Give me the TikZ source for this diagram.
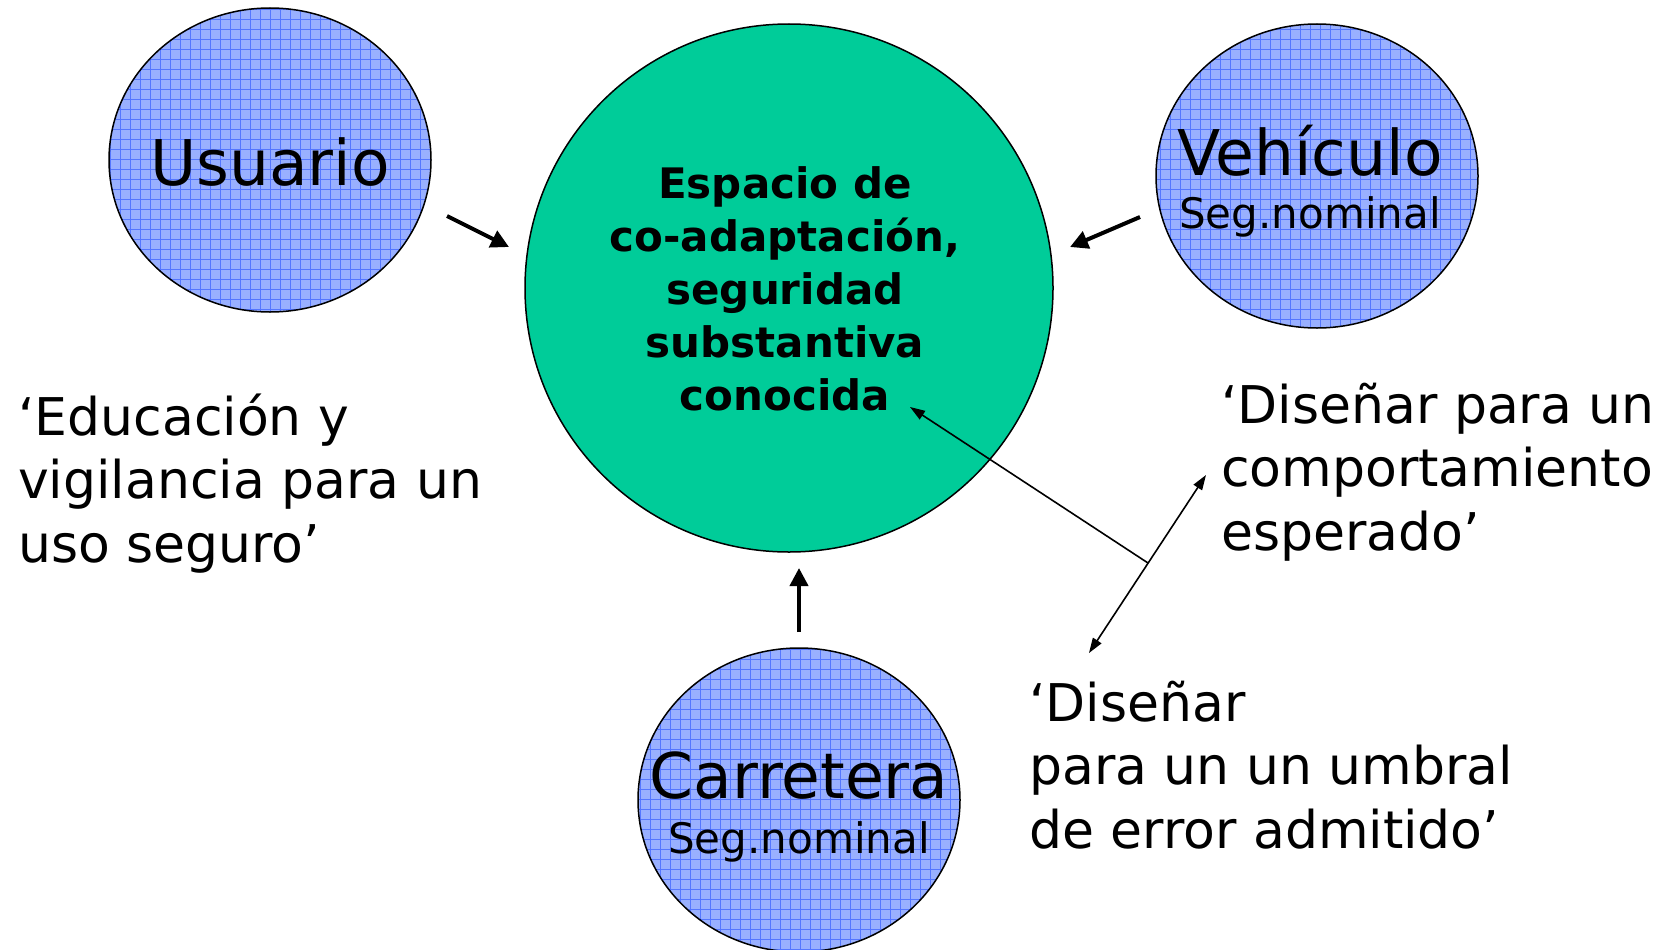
\documentclass[tikz,border=0pt]{standalone}
\usepackage{fontspec}
\setmainfont{DejaVu Sans}
\usetikzlibrary{arrows.meta}
\usetikzlibrary{patterns.meta}
\usetikzlibrary{shapes.geometric}

\definecolor{bubbleblue}{RGB}{153,176,255}
\definecolor{gridblue}{RGB}{85,119,255}
\definecolor{coregreen}{RGB}{0,204,153}

\begin{document}
\begin{tikzpicture}[x=1pt,y=-1pt,
        bubble/.style={ellipse,draw,line width=1.5pt,inner sep=0pt,outer sep=0pt,
            minimum width=322pt,minimum height=304pt,preaction={fill=bubbleblue},
            pattern={Hatch[angle=0,distance=10pt,line width=1pt]},pattern color=gridblue},
        core/.style={circle,draw,line width=1.5pt,fill=coregreen,inner sep=0pt,minimum size=528pt},
        title/.style={font=\fontsize{63}{63}\selectfont,inner sep=0pt,anchor=base},
        subtitle/.style={font=\fontsize{42}{42}\selectfont,inner sep=0pt,anchor=base},
        coretext/.style={font=\bfseries\fontsize{42}{52.8}\selectfont,align=center,inner sep=0pt,anchor=base},
        note/.style={font=\fontsize{52}{63.5}\selectfont,align=left,inner sep=0pt,anchor=base west},
        bigarrow/.style={line width=4pt,-{Triangle[length=18pt,width=18pt]}},
        thinarrow/.style={line width=1.6pt,-{Triangle[length=15pt,width=10pt]}},
        thinboth/.style={line width=1.6pt,{Triangle[length=15pt,width=10pt]}-{Triangle[length=15pt,width=10pt]}}]
                \useasboundingbox (0,0) rectangle (1670,950);

                \node[bubble] (usuario) at (270,160) {};
                \node[bubble] (vehiculo) at (1317,176) {};
                \node[bubble] (carretera) at (799,800) {};
                \node[core] (espacio) at (789,288) {};

                \node[title] (usuarioname) at (270,185) {Usuario};
                \node[title] (vehiculoname) at (1310,175) {Vehículo};
                \node[subtitle] (vehiculoseg) at (1310,228) {Seg.nominal};
                \node[title] (carreteraname) at (799,798) {Carretera};
                \node[subtitle] (carreteraseg) at (799,853) {Seg.nominal};

                \node[coretext] (espaciotext) at (785,410) {Espacio de\\co-adaptación,\\seguridad\\substantiva\\conocida};

                \node[note] (educacion) at (18,562) {‘Educación y\\vigilancia para un\\uso seguro’};
                \node[note] (comportamiento) at (1221,550) {‘Diseñar para un\\comportamiento\\esperado’};
                \node[note] (umbral) at (1029,848) {‘Diseñar\\para un un umbral\\de error admitido’};

                \coordinate (usuarioout) at (447,216);
                \coordinate (usuarioin) at (509,247);
                \coordinate (vehiculoout) at (1140,217);
                \coordinate (vehiculoin) at (1070,247);
                \coordinate (carreteraout) at (799,632);
                \coordinate (carreterain) at (799,568);

                \draw[bigarrow] (usuarioout) -- (usuarioin);
                \draw[bigarrow] (vehiculoout) -- (vehiculoin);
                \draw[bigarrow] (carreteraout) -- (carreterain);

                \coordinate (umbraltip) at (1089,653);
                \coordinate (comportamientotip) at (1206,475);
                \coordinate (junction) at (1148,563);
                \coordinate (conocidatip) at (910,407);

                \draw[thinarrow] (junction) -- (conocidatip);
                \draw[thinboth] (umbraltip) -- (comportamientotip);
            \end{tikzpicture}
\end{document}
